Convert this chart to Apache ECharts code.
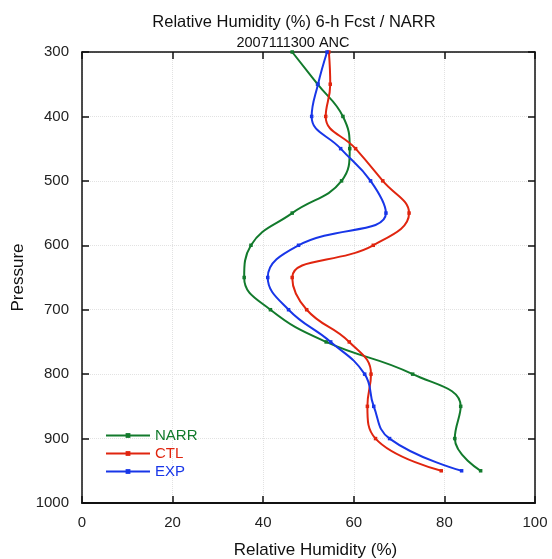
<!DOCTYPE html>
<html>
<head>
<meta charset="utf-8">
<script src="https://cdn.jsdelivr.net/npm/echarts@6/dist/echarts.min.js"></script>
<style>
  html, body { margin: 0; padding: 0; background: #fff; }
  #main { width: 552px; height: 559px; }
</style>
</head>
<body>
<div id="main"></div>
<script>
// pressure levels (hPa)
var levels = [300, 350, 400, 450, 500, 550, 600, 650, 700, 750, 800, 850, 900, 950];
// relative humidity (%)
var narr = [46.4, 52.0, 57.6, 59.1, 57.3, 46.4, 37.3, 35.8, 41.6, 53.9, 73.0, 83.6, 82.3, 88.0];
var ctl = [54.5, 54.8, 53.8, 60.4, 66.4, 72.2, 64.3, 46.4, 49.6, 59.0, 63.8, 63.0, 64.8, 79.3];
var exp = [54.1, 52.1, 50.7, 57.1, 63.7, 67.1, 47.8, 41.0, 45.6, 54.9, 62.4, 64.4, 67.9, 83.8];

var colors = { NARR: "#127a2c", CTL: "#e0250f", EXP: "#1836e8" };

function pairs(vals) {
  return vals.map(function (v, i) { return [v, levels[i]]; });
}

function makeSeries(name, vals) {
  return {
    name: name,
    type: "line",
    data: pairs(vals),
    smooth: 0.45,
    symbol: "rect",
    symbolSize: 3.5,
    showSymbol: true,
    lineStyle: { color: colors[name], width: 2 },
    itemStyle: { color: colors[name] },
    z: name == "NARR" ? 3 : (name == "CTL" ? 4 : 5),
  };
}

// frame axis line + inward ticks
function frame(w) {
  return {
    axisLine: { show: true, onZero: false, lineStyle: { color: "#111", width: w } },
    axisTick: { show: true, inside: true, length: 7, lineStyle: { color: "#111", width: 1.5 } },
  };
}

var myChart = echarts.init(document.getElementById("main"));
var font = "Liberation Sans, Arial";
var axisFont = { color: "#222", fontSize: 15, fontFamily: font };
var gridLine = { show: true, lineStyle: { color: "#e2e2e2", type: "dotted" } };
var option = {
  animation: false,
  title: [
    {
      text: "Relative Humidity (%) 6-h Fcst / NARR",
      left: 289, top: 9, textAlign: "center",
      textStyle: { fontSize: 16.5, fontWeight: "normal", color: "#111", fontFamily: font },
    },
    {
      text: "2007111300 ANC",
      left: 288, top: 30, textAlign: "center",
      textStyle: { fontSize: 14.5, fontWeight: "normal", color: "#111", fontFamily: font },
    },
  ],
  grid: { left: 82, right: 17, top: 52, bottom: 56, containLabel: false, outerBoundsMode: "none" },
  legend: {
    orient: "vertical",
    left: 100,
    top: 423,
    itemWidth: 44,
    itemHeight: 6,
    itemGap: 3,
    textStyle: { fontSize: 15, fontFamily: font },
    data: [
      { name: "NARR", textStyle: { color: colors.NARR } },
      { name: "CTL", textStyle: { color: colors.CTL } },
      { name: "EXP", textStyle: { color: colors.EXP } },
    ],
  },
  xAxis: [
    Object.assign({
      type: "value",
      min: 0, max: 100, interval: 20,
      position: "bottom",
      name: "Relative Humidity (%)",
      nameLocation: "middle",
      nameGap: 39,
      nameMoveOverlap: false,
      nameTextStyle: { fontSize: 17, color: "#111", fontFamily: font, padding: [0, 0, 0, 14] },
      axisLabel: Object.assign({ margin: 12 }, axisFont),
      splitLine: gridLine,
    }, frame(2)),
    Object.assign({
      type: "value",
      min: 0, max: 100, interval: 20,
      position: "top",
      axisLabel: { show: false },
      splitLine: { show: false },
    }, frame(1.5)),
  ],
  yAxis: [
    Object.assign({
      type: "value",
      inverse: true,
      min: 300, max: 1000, interval: 100,
      position: "left",
      name: "Pressure",
      nameLocation: "middle",
      nameGap: 55,
      nameMoveOverlap: false,
      nameRotate: 90,
      nameTextStyle: { fontSize: 17, color: "#111", fontFamily: font },
      axisLabel: Object.assign({ margin: 13, formatter: function (v) { return String(v); } }, axisFont),
      splitLine: gridLine,
    }, frame(1.5)),
    Object.assign({
      type: "value",
      inverse: true,
      min: 300, max: 1000, interval: 100,
      position: "right",
      axisLabel: { show: false },
      splitLine: { show: false },
    }, frame(1.5)),
  ],
  series: [
    makeSeries("NARR", narr),
    makeSeries("CTL", ctl),
    makeSeries("EXP", exp),
  ],
};
myChart.setOption(option);
</script>
</body>
</html>
